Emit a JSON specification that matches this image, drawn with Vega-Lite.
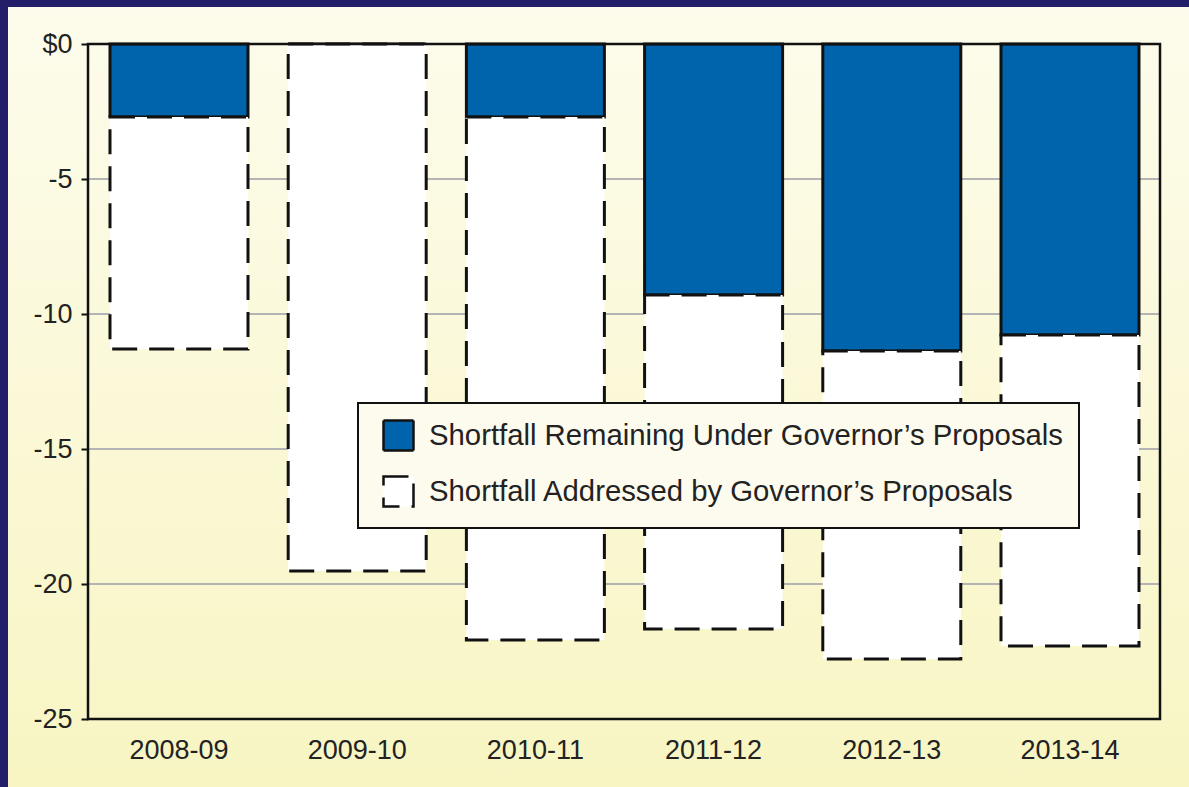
{
  "$schema": "https://vega.github.io/schema/vega-lite/v6.json",
  "width": 1181,
  "height": 780,
  "autosize": "none",
  "padding": {"left": 8, "top": 7, "right": 0, "bottom": 0},
  "background": "#231e6a",
  "config": {
    "font": "Liberation Sans",
    "view": {
      "stroke": null,
      "fill": {"gradient": "linear", "x1": 0, "y1": 0, "x2": 0, "y2": 1,
        "stops": [{"offset": 0, "color": "#fdfcec"}, {"offset": 1, "color": "#f8f5c3"}]}
    },
    "legend": {"strokeWidth": 2}
  },
  "datasets": {
    "shortfall": [
      {"year": "2008-09", "series": "Shortfall Remaining Under Governor’s Proposals", "amount": -2.7},
      {"year": "2009-10", "series": "Shortfall Remaining Under Governor’s Proposals", "amount": 0},
      {"year": "2010-11", "series": "Shortfall Remaining Under Governor’s Proposals", "amount": -2.7},
      {"year": "2011-12", "series": "Shortfall Remaining Under Governor’s Proposals", "amount": -9.3},
      {"year": "2012-13", "series": "Shortfall Remaining Under Governor’s Proposals", "amount": -11.37},
      {"year": "2013-14", "series": "Shortfall Remaining Under Governor’s Proposals", "amount": -10.78},
      {"year": "2008-09", "series": "Shortfall Addressed by Governor’s Proposals", "amount": -8.6},
      {"year": "2009-10", "series": "Shortfall Addressed by Governor’s Proposals", "amount": -19.52},
      {"year": "2010-11", "series": "Shortfall Addressed by Governor’s Proposals", "amount": -19.37},
      {"year": "2011-12", "series": "Shortfall Addressed by Governor’s Proposals", "amount": -12.37},
      {"year": "2012-13", "series": "Shortfall Addressed by Governor’s Proposals", "amount": -11.41},
      {"year": "2013-14", "series": "Shortfall Addressed by Governor’s Proposals", "amount": -11.52}
    ],
    "gridlines": [{"tick": -5}, {"tick": -10}, {"tick": -15}, {"tick": -20}]
  },
  "resolve": {"scale": {"x": "independent"}},
  "layer": [
    {
      "data": {"name": "gridlines"},
      "mark": {"type": "rule", "color": "#b4b4b4", "strokeWidth": 2},
      "encoding": {
        "y": {"field": "tick", "type": "quantitative",
          "scale": {"domain": [-27.5185, 1.3704], "nice": false, "zero": false},
          "axis": {"orient": "left", "offset": -80, "domain": false, "grid": false, "title": null,
            "values": [0, -5, -10, -15, -20, -25], "tickSize": 7, "tickWidth": 2, "tickColor": "#111111",
            "labelFontSize": 27, "labelColor": "#222222", "labelPadding": 9,
            "labelExpr": "datum.value == 0 ? '$0' : '-' + (-datum.value)"}},
        "x": {"datum": 0, "type": "quantitative",
          "scale": {"domain": [-0.4478, 6.1623], "nice": false, "zero": false}, "axis": null},
        "x2": {"datum": 6}
      }
    },
    {
      "data": {"name": "shortfall"},
      "mark": {"type": "bar", "stroke": "#111111", "strokeWidth": 3},
      "encoding": {
        "x": {"field": "year", "type": "nominal", "sort": null,
          "scale": {"paddingInner": 0.2256, "paddingOuter": 0.4265, "align": 0.671},
          "axis": {"orient": "bottom", "offset": -68, "domain": false, "ticks": false, "tickSize": 0,
            "grid": false, "title": null, "labelAngle": 0, "labelFontSize": 27,
            "labelColor": "#222222", "labelPadding": 18}},
        "y": {"field": "amount", "type": "quantitative", "stack": "zero",
          "scale": {"domain": [-27.5185, 1.3704], "nice": false, "zero": false},
          "axis": {"orient": "left", "offset": -80, "domain": false, "grid": false, "title": null,
            "values": [0, -5, -10, -15, -20, -25], "tickSize": 7, "tickWidth": 2, "tickColor": "#111111",
            "labelFontSize": 27, "labelColor": "#222222", "labelPadding": 9,
            "labelExpr": "datum.value == 0 ? '$0' : '-' + (-datum.value)"}},
        "order": {"field": "series", "sort": "descending"},
        "fill": {"field": "series", "type": "nominal",
          "scale": {"domain": ["Shortfall Remaining Under Governor’s Proposals", "Shortfall Addressed by Governor’s Proposals"],
            "range": ["#0064ad", "#ffffff"]},
          "legend": {"orient": "none", "legendX": 350, "legendY": 396, "title": null,
            "fillColor": "#fdfbee", "strokeColor": "#111111", "padding": 16, "symbolOffset": 8,
            "symbolType": "square", "symbolSize": 900, "symbolStrokeColor": "#111111",
            "symbolStrokeWidth": 2.5, "labelFontSize": 29.3, "labelColor": "#222222",
            "labelOffset": 14, "rowPadding": 15, "labelLimit": 1000,
            "encode": {"symbols": {"update": {"stroke": {"value": "#111111"}, "strokeWidth": {"value": 2.5},
              "strokeDash": [{"test": "datum.value === 'Shortfall Addressed by Governor’s Proposals'", "value": [9, 6]}, {"value": [1, 0]}]}}}}},
        "strokeDash": {"field": "series", "type": "nominal",
          "scale": {"domain": ["Shortfall Remaining Under Governor’s Proposals", "Shortfall Addressed by Governor’s Proposals"],
            "range": [[1, 0], [25, 12]]},
          "legend": {"orient": "none", "legendX": 350, "legendY": 396, "title": null,
            "fillColor": "#fdfbee", "strokeColor": "#111111", "padding": 16, "symbolOffset": 8,
            "symbolType": "square", "symbolSize": 900, "symbolStrokeColor": "#111111",
            "symbolStrokeWidth": 2.5, "labelFontSize": 29.3, "labelColor": "#222222",
            "labelOffset": 14, "rowPadding": 15, "labelLimit": 1000,
            "encode": {"symbols": {"update": {"stroke": {"value": "#111111"}, "strokeWidth": {"value": 2.5},
              "strokeDash": [{"test": "datum.value === 'Shortfall Addressed by Governor’s Proposals'", "value": [9, 6]}, {"value": [1, 0]}]}}}}}
      }
    },
    {
      "data": {"values": [{}]},
      "mark": {"type": "rect", "fill": "transparent", "stroke": "#111111", "strokeWidth": 2.5},
      "encoding": {
        "x": {"datum": 0, "type": "quantitative",
          "scale": {"domain": [-0.4478, 6.1623], "nice": false, "zero": false}, "axis": null},
        "x2": {"datum": 6},
        "y": {"datum": 0, "type": "quantitative",
          "scale": {"domain": [-27.5185, 1.3704], "nice": false, "zero": false},
          "axis": {"orient": "left", "offset": -80, "domain": false, "grid": false, "title": null,
            "values": [0, -5, -10, -15, -20, -25], "tickSize": 7, "tickWidth": 2, "tickColor": "#111111",
            "labelFontSize": 27, "labelColor": "#222222", "labelPadding": 9,
            "labelExpr": "datum.value == 0 ? '$0' : '-' + (-datum.value)"}},
        "y2": {"datum": -25}
      }
    }
  ]
}
